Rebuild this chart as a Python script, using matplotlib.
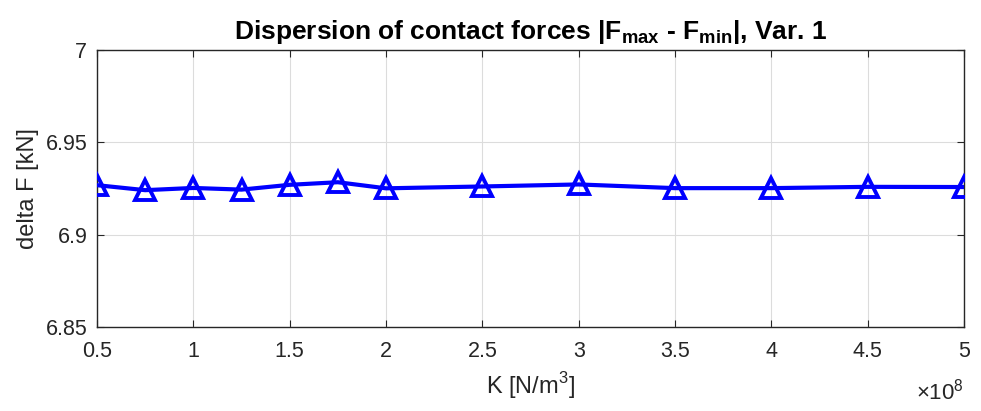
import matplotlib.pyplot as plt

plt.rcParams['font.family'] = ['Liberation Sans', 'DejaVu Sans']
plt.rcParams['mathtext.fontset'] = 'custom'
plt.rcParams['mathtext.rm'] = 'Liberation Sans'
plt.rcParams['mathtext.bf'] = 'Liberation Sans:bold'

# stiffness K [N/m^3] and force dispersion [kN]
K = [0.5e8, 0.75e8, 1.0e8, 1.25e8, 1.5e8, 1.75e8, 2.0e8, 2.5e8, 3.0e8,
     3.5e8, 4.0e8, 4.5e8, 5.0e8]
dF = [6.9268, 6.9241, 6.9253, 6.9244, 6.9270, 6.9284, 6.9251, 6.9261,
      6.9272, 6.9252, 6.9252, 6.9259, 6.9258]
xticks = [0.5e8, 1e8, 1.5e8, 2e8, 2.5e8, 3e8, 3.5e8, 4e8, 4.5e8, 5e8]
xticklabels = ['0.5', '1', '1.5', '2', '2.5', '3', '3.5', '4', '4.5', '5']
yticks = [6.85, 6.9, 6.95, 7.0]
yticklabels = ['6.85', '6.9', '6.95', '7']

fig = plt.figure(figsize=(9.81, 4.11), dpi=100)
ax = fig.add_axes([0.0989, 0.2044, 0.8838, 0.6739])

ax.plot(K, dF, color=(0, 0, 1), lw=3.0, marker='^', markersize=15,
        markerfacecolor='none', markeredgewidth=2.8, zorder=3)

ax.set_xlim(0.5e8, 5e8)
ax.set_ylim(6.85, 7.0)
ax.set_xticks(xticks)
ax.set_xticklabels(xticklabels)
ax.set_yticks(yticks)
ax.set_yticklabels(yticklabels)

ax.grid(True, color='#dcdcdc', lw=0.8)
ax.set_axisbelow(True)
ax.tick_params(direction='in', top=True, right=True, labelsize=15.5,
               colors='#262626', length=5, width=0.8)
ax.tick_params(axis='x', pad=10)
ax.tick_params(axis='y', pad=7)
for s in ax.spines.values():
    s.set_color('#262626')
    s.set_linewidth(1.0)

# exponent of the x axis, MATLAB style
ax.text(1.0, -0.26, r'$\times$10$^{8}$', transform=ax.transAxes,
        ha='right', va='baseline', fontsize=16, color='#262626')

ax.set_xlabel('K [N/m$^3$]', fontsize=17, color='#262626', labelpad=6)
ax.set_ylabel('delta F [kN]', fontsize=17, color='#262626', labelpad=5)
ax.set_title(r'Dispersion of contact forces |F$_{\mathbf{max}}$ - F$_{\mathbf{min}}$|, Var. 1',
             fontsize=19, fontweight='bold', color='black', pad=8)

fig.savefig('out.png', dpi=100)
